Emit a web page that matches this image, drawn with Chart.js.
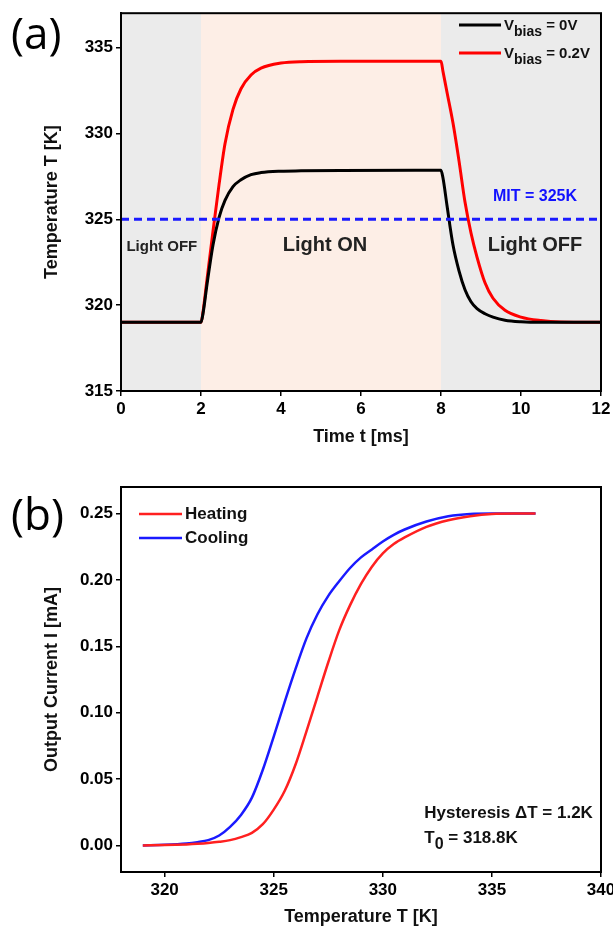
<!DOCTYPE html>
<html>
<head>
<meta charset="utf-8">
<script src="https://cdn.jsdelivr.net/npm/chart.js@4"></script>
<style>
  html, body { margin: 0; padding: 0; background: #fff; }
  #wrap { position: relative; width: 613px; height: 930px; }
  #chartA { position: absolute; left: 0; top: 0; }
  #chartB { position: absolute; left: 0; top: 460px; }
</style>
</head>
<body>
<div id="wrap">
  <canvas id="chartA" width="613" height="460"></canvas>
  <canvas id="chartB" width="613" height="470"></canvas>
</div>
<script>
// ---- panel (a): temperature vs time ----
const timeMs = [0, 2, 2.05, 2.15, 2.3, 2.45, 2.6, 2.8, 3.0, 3.25, 3.5, 4.0, 4.5, 5.5, 8.0,
                8.05, 8.15, 8.3, 8.45, 8.6, 8.75, 8.9, 9.1, 9.3, 9.6, 10.0, 10.5, 11.0, 12.0];
const tempBias0 = [319, 319, 319.5, 321.2, 323.5, 325.1, 326.1, 326.9, 327.3, 327.6, 327.72, 327.8, 327.82, 327.84, 327.85,
                   327.4, 325.8, 323.5, 322.0, 320.9, 320.2, 319.8, 319.5, 319.3, 319.12, 319.03, 319.0, 319.0, 319.0];
const tempBias02 = [319, 319, 319.6, 321.5, 324.3, 327.0, 329.4, 331.4, 332.6, 333.4, 333.8, 334.1, 334.18, 334.2, 334.2,
                    333.6, 332.4, 330.6, 328.4, 326.0, 324.2, 322.8, 321.3, 320.4, 319.7, 319.3, 319.1, 319.02, 319.0];
const mitTemp = 325;
const phaseStart = [0, 2, 8];
const phaseEnd = [2, 8, 12];
const timeTicks = [0, 2, 4, 6, 8, 10, 12];
const tempTicksA = [315, 320, 325, 330, 335];

// ---- panel (b): output current vs temperature ----
const tempK = [319, 320, 321, 321.5, 322, 322.5, 323, 323.5, 324, 324.5, 325, 325.5, 326, 326.5, 327, 327.5,
               328, 328.5, 329, 329.5, 330, 330.5, 331, 332, 333, 334, 335, 336, 337];
const currentHeating = [0, 0.0003, 0.0008, 0.0012, 0.0018, 0.0027, 0.004, 0.0063, 0.0095, 0.016, 0.027, 0.041,
                        0.061, 0.086, 0.112, 0.138, 0.162, 0.181, 0.197, 0.21, 0.22, 0.227, 0.232, 0.24, 0.245,
                        0.248, 0.2497, 0.25, 0.25];
const currentCooling = [0, 0.0005, 0.0015, 0.0025, 0.004, 0.0075, 0.014, 0.023, 0.036, 0.057, 0.082, 0.108,
                        0.133, 0.156, 0.174, 0.188, 0.199, 0.209, 0.217, 0.223, 0.229, 0.234, 0.238, 0.244,
                        0.248, 0.2497, 0.25, 0.25, 0.25];
const tempTicksB = [320, 325, 330, 335, 340];
const currentTicks = [0, 0.05, 0.10, 0.15, 0.20, 0.25];

const FONT = "'Liberation Sans', Arial, sans-serif";
const pts = (xs, ys) => xs.map((x, i) => ({ x: x, y: ys[i] }));

function axisCommon(tickVals, fmt, width, height) {
    return {
        type: 'linear',
        border: { display: true, color: '#000', width: 2 },
        grid: { drawOnChartArea: false, drawTicks: true, tickLength: 5, color: '#000', lineWidth: 1.5 },
        ticks: {
            color: '#000',
            font: { family: FONT, size: 17, weight: 'bold' },
            callback: fmt
        },
        afterBuildTicks: s => { s.ticks = tickVals.map(v => ({ value: v })); },
        afterFit: s => {
            if (width) s.width = width;
            if (height) {
                s.height = height;
                // let the last tick label hang off the edge like the original
                s.paddingLeft = 0;
                s.paddingRight = 0;
            }
        }
    };
}

// frame + overlays
function drawFrame(ctx, area) {
    ctx.save();
    ctx.strokeStyle = '#000';
    ctx.lineWidth = 2;
    ctx.strokeRect(area.left, area.top, area.right - area.left, area.bottom - area.top);
    ctx.restore();
}

function drawSubText(ctx, x, y, main, sub, rest, size) {
    ctx.font = 'bold ' + size + 'px ' + FONT;
    ctx.fillText(main, x, y);
    x += ctx.measureText(main).width;
    ctx.font = 'bold ' + (size - 1) + 'px ' + FONT;
    ctx.fillText(sub, x, y + 6);
    x += ctx.measureText(sub).width;
    ctx.font = 'bold ' + size + 'px ' + FONT;
    ctx.fillText(rest, x, y);
}

const overlayA = {
    id: 'overlayA',
    beforeDatasetsDraw(chart) {
        const { ctx, chartArea: a, scales: { x } } = chart;
        const fills = ['#ebebeb', '#fdeee6', '#ebebeb'];
        ctx.save();
        phaseStart.forEach((s, i) => {
            const x0 = x.getPixelForValue(s), x1 = x.getPixelForValue(phaseEnd[i]);
            ctx.fillStyle = fills[i];
            ctx.fillRect(x0, a.top, x1 - x0, a.bottom - a.top);
        });
        ctx.restore();
    },
    afterDatasetsDraw(chart) {
        const { ctx, scales: { x, y } } = chart;
        ctx.save();
        ctx.textBaseline = 'middle';
        ctx.textAlign = 'center';
        ctx.fillStyle = '#222';
        ctx.font = 'bold 15px ' + FONT;
        ctx.fillText('Light OFF', x.getPixelForValue(1.02), y.getPixelForValue(323.4));
        ctx.font = 'bold 20px ' + FONT;
        ctx.fillText('Light ON', x.getPixelForValue(5.1), y.getPixelForValue(323.5));
        ctx.fillText('Light OFF', x.getPixelForValue(10.35), y.getPixelForValue(323.5));
        ctx.fillStyle = '#1010ff';
        ctx.font = 'bold 16px ' + FONT;
        ctx.fillText('MIT = 325K', x.getPixelForValue(10.35), y.getPixelForValue(326.3));

        // legend
        ctx.lineWidth = 3;
        [['#000', '0V', 25], ['#ff0000', '0.2V', 53]].forEach(([c, v, ly]) => {
            ctx.strokeStyle = c;
            ctx.beginPath();
            ctx.moveTo(459, ly);
            ctx.lineTo(501, ly);
            ctx.stroke();
            ctx.fillStyle = '#111';
            ctx.textAlign = 'left';
            ctx.textBaseline = 'alphabetic';
            drawSubText(ctx, 504, ly + 5, 'V', 'bias', ' = ' + v, 15);
        });

        ctx.fillStyle = '#000';
        ctx.font = '44px "Open Sans", sans-serif';
        ctx.textAlign = 'left';
        ctx.textBaseline = 'middle';
        ctx.fillText('(a)', 11, 36);
        ctx.restore();
    },
    afterDraw(chart) { drawFrame(chart.ctx, chart.chartArea); }
};

const overlayB = {
    id: 'overlayB',
    afterDatasetsDraw(chart) {
        const { ctx, scales: { x, y } } = chart;
        ctx.save();
        ctx.lineWidth = 2.5;
        [['#ff2020', 'Heating', 54], ['#1a1aff', 'Cooling', 78]].forEach(([c, t, ly]) => {
            ctx.strokeStyle = c;
            ctx.beginPath();
            ctx.moveTo(139, ly);
            ctx.lineTo(182, ly);
            ctx.stroke();
            ctx.fillStyle = '#111';
            ctx.font = 'bold 17px ' + FONT;
            ctx.textBaseline = 'middle';
            ctx.fillText(t, 185, ly);
        });

        ctx.textBaseline = 'alphabetic';
        ctx.font = 'bold 17px ' + FONT;
        ctx.fillText('Hysteresis \u0394T = 1.2K', x.getPixelForValue(331.9), y.getPixelForValue(0.0205));
        drawSubText(ctx, x.getPixelForValue(331.9), y.getPixelForValue(0.0015), 'T', '0', ' = 318.8K', 17);

        ctx.fillStyle = '#000';
        ctx.font = '44px "Open Sans", sans-serif';
        ctx.textBaseline = 'middle';
        ctx.fillText('(b)', 11, 57);
        ctx.restore();
    },
    afterDraw(chart) { drawFrame(chart.ctx, chart.chartArea); }
};

new Chart(document.getElementById('chartA'), {
    type: 'line',
    data: {
        datasets: [
            {
                label: 'MIT',
                data: [{ x: 0, y: mitTemp }, { x: 12, y: mitTemp }],
                borderColor: '#1a1aff',
                borderWidth: 3,
                borderDash: [8, 5],
                pointRadius: 0
            },
            {
                label: 'Vbias = 0V',
                data: pts(timeMs, tempBias0),
                borderColor: '#000',
                borderWidth: 3,
                pointRadius: 0,
                cubicInterpolationMode: 'monotone'
            },
            {
                label: 'Vbias = 0.2V',
                data: pts(timeMs, tempBias02),
                borderColor: '#ff0000',
                borderWidth: 3,
                pointRadius: 0,
                cubicInterpolationMode: 'monotone'
            }
        ]
    },
    options: {
        responsive: false,
        animation: false,
        layout: { padding: { top: 6, right: 12, left: 0, bottom: 0 } },
        plugins: { legend: { display: false }, tooltip: { enabled: false } },
        scales: {
            x: Object.assign(axisCommon(timeTicks, v => String(v), null, 69), {
                min: 0, max: 12,
                title: { display: true, text: 'Time t [ms]', color: '#111',
                         font: { family: FONT, size: 18, weight: 'bold' }, padding: { bottom: 12 } }
            }),
            y: Object.assign(axisCommon(tempTicksA, v => String(v), 121, null), {
                min: 315, max: 337,
                title: { display: true, text: 'Temperature T [K]', color: '#111',
                         font: { family: FONT, size: 18, weight: 'bold' }, padding: { top: 41 } }
            })
        }
    },
    plugins: [overlayA]
});

// Temperature-current hysteresis chart
new Chart(document.getElementById('chartB'), {
    type: 'line',
    data: {
        datasets: [
            {
                label: 'Heating',
                data: pts(tempK, currentHeating),
                borderColor: '#ff2020',
                borderWidth: 2.5,
                pointRadius: 0,
                cubicInterpolationMode: 'monotone'
            },
            {
                label: 'Cooling',
                data: pts(tempK, currentCooling),
                borderColor: '#1a1aff',
                borderWidth: 2.5,
                pointRadius: 0,
                cubicInterpolationMode: 'monotone'
            }
        ]
    },
    options: {
        responsive: false,
        animation: false,
        layout: { padding: { top: 27, right: 12, left: 0, bottom: 0 } },
        plugins: { legend: { display: false }, tooltip: { enabled: false } },
        scales: {
            x: Object.assign(axisCommon(tempTicksB, v => String(v), null, 58), {
                min: 318, max: 340,
                title: { display: true, text: 'Temperature T [K]', color: '#111',
                         font: { family: FONT, size: 18, weight: 'bold' }, padding: { bottom: 2 } }
            }),
            y: Object.assign(axisCommon(currentTicks, v => v.toFixed(2), 121, null), {
                min: -0.02, max: 0.27,
                title: { display: true, text: 'Output Current I [mA]', color: '#111',
                         font: { family: FONT, size: 18, weight: 'bold' }, padding: { top: 41 } }
            })
        }
    },
    plugins: [overlayB]
});
</script>
</body>
</html>
